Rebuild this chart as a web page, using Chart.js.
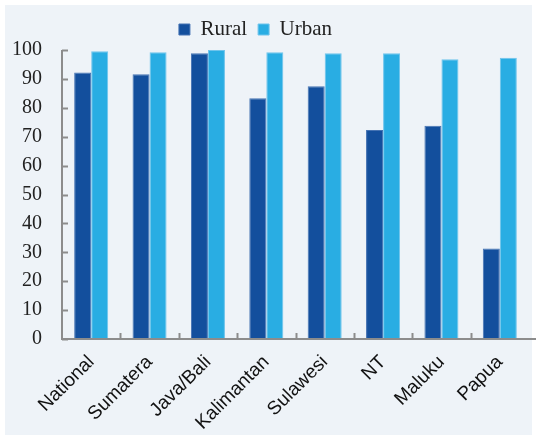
<!DOCTYPE html>
<html>
<head>
<meta charset="utf-8">
<script src="https://cdn.jsdelivr.net/npm/chart.js@4"></script>
<style>
	html, body { margin: 0; padding: 0; background: #ffffff; }
	#wrap { width: 538px; height: 438px; position: relative; }
</style>
</head>
<body>
<div id="wrap"><canvas id="accessChart" width="538" height="438"></canvas></div>
<script>
// Access by region, rural vs urban (%)
const regions = ['National', 'Sumatera', 'Java/Bali', 'Kalimantan', 'Sulawesi', 'NT', 'Maluku', 'Papua'];
const rural = [92.2, 91.6, 98.9, 83.3, 87.5, 72.3, 73.8, 31.3];
const urban = [99.6, 99.2, 100, 99.2, 98.9, 98.9, 96.8, 97.3];
const yTicks = [0, 10, 20, 30, 40, 50, 60, 70, 80, 90, 100];

const axisGrey = '#8c8c8c';

// panel background + inward tick marks
const panelPlugin = {
	id: 'panel',
	afterLayout(chart) {
		// legend sits a bit left of the canvas centre
		if (chart.legend) {
			chart.legend.left = 0;
			chart.legend.right = 511;
		}
	},
	beforeDraw(chart) {
		const c = chart.ctx;
		c.save();
		c.fillStyle = '#eef3f8';
		c.fillRect(5, 5, 527, 430);
		c.restore();
	},
	afterDraw(chart) {
		const c = chart.ctx;
		const x = chart.scales.x;
		const y = chart.scales.y;
		const area = chart.chartArea;
		c.save();
		c.strokeStyle = axisGrey;
		c.lineWidth = 2;
		// axes
		c.beginPath();
		c.moveTo(area.left, y.getPixelForValue(100));
		c.lineTo(area.left, y.getPixelForValue(0));
		c.lineTo(536, y.getPixelForValue(0));
		c.stroke();
		// y ticks pointing right
		yTicks.forEach(v => {
			const py = Math.round(y.getPixelForValue(v)) + 0.5;
			c.beginPath();
			c.moveTo(area.left, py);
			c.lineTo(area.left + 6, py);
			c.stroke();
		});
		// x ticks between categories, pointing up
		for (let i = 1; i < regions.length; i++) {
			const px = Math.round((x.getPixelForValue(i - 1) + x.getPixelForValue(i)) / 2) + 0.5;
			const py = y.getPixelForValue(0);
			c.beginPath();
			c.moveTo(px, py);
			c.lineTo(px, py - 6);
			c.stroke();
		}
		c.restore();
	}
};

const ctx = document.getElementById('accessChart').getContext('2d');

new Chart(ctx, {
	type: 'bar',
	data: {
		labels: regions,
		datasets: [
			{
				label: 'Rural',
				data: rural,
				backgroundColor: '#134f9d',
				borderColor: '#4573b3',
				borderWidth: 1,
				barPercentage: 1,
				categoryPercentage: 0.583
			},
			{
				label: 'Urban',
				data: urban,
				backgroundColor: '#29ade3',
				borderColor: '#6fc4ec',
				borderWidth: 1,
				barPercentage: 1,
				categoryPercentage: 0.583
			}
		]
	},
	options: {
		responsive: false,
		animation: false,
		devicePixelRatio: 1,
		layout: { padding: { top: 8, right: 9, left: 0, bottom: 0 } },
		plugins: {
			legend: {
				position: 'top',
				labels: {
					font: { family: 'Liberation Serif', size: 21 },
					color: '#222222',
					boxWidth: 11,
					boxHeight: 11,
					padding: 11
				}
			},
			title: { display: false },
			tooltip: { enabled: false }
		},
		scales: {
			y: {
				min: 0,
				max: 100,
				ticks: {
					stepSize: 10,
					padding: 20,
					color: '#222222',
					font: { family: 'Liberation Serif', size: 20 }
				},
				grid: { display: false, drawTicks: false },
				border: { display: false },
				afterFit(scale) { scale.width = 62; }
			},
			x: {
				ticks: {
					minRotation: 45,
					maxRotation: 45,
					padding: 12,
					color: '#111111',
					font: { family: 'Liberation Sans', size: 19 }
				},
				grid: { display: false, drawTicks: false },
				border: { display: false },
				afterFit(scale) { scale.height = 99; }
			}
		}
	},
	plugins: [panelPlugin]
});
</script>
</body>
</html>
